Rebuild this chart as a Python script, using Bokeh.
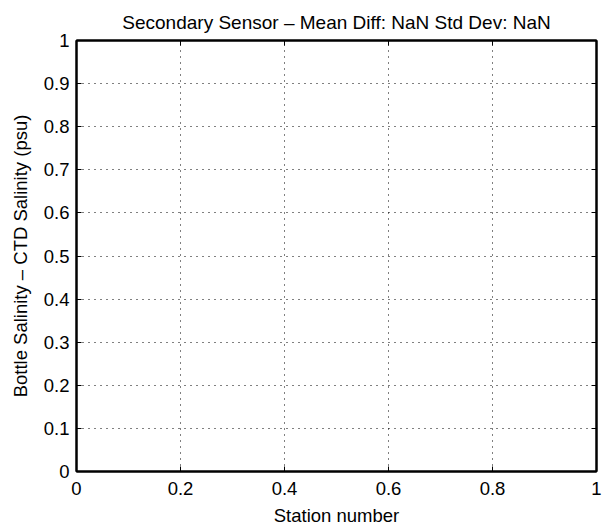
from bokeh.plotting import figure
from bokeh.models import LinearAxis, FixedTicker, Range1d
from bokeh.embed import file_html
from bokeh.resources import INLINE

# Data (the reference plot is empty: no valid samples, hence NaN statistics)
station = []
salinity_diff = []

title_text = "Secondary Sensor \u2013 Mean Diff: NaN Std Dev: NaN"
x_label = "Station number"
y_label = "Bottle Salinity \u2013 CTD Salinity (psu)"

x_ticks = [0, 0.2, 0.4, 0.6, 0.8, 1]
x_tick_labels = ["0", "0.2", "0.4", "0.6", "0.8", "1"]
y_ticks = [0, 0.1, 0.2, 0.3, 0.4, 0.5, 0.6, 0.7, 0.8, 0.9, 1]
y_tick_labels = ["0", "0.1", "0.2", "0.3", "0.4", "0.5", "0.6", "0.7", "0.8", "0.9", "1"]

FONT = "Liberation Sans"

p = figure(width=608, height=531, output_backend="svg", toolbar_location=None,
           x_range=Range1d(0, 1), y_range=Range1d(0, 1),
           min_border_left=76, min_border_right=12, min_border_top=40, min_border_bottom=60)

p.scatter(station, salinity_diff, size=5, color="blue")

p.title.text = title_text
p.title.align = "center"
p.title.text_font = FONT
p.title.text_font_size = "19px"
p.title.text_font_style = "normal"
p.title.text_color = "black"
p.title.standoff = 15

p.outline_line_color = "black"
p.outline_line_width = 2
p.outline_line_alpha = 1

xt = FixedTicker(ticks=x_ticks)
yt = FixedTicker(ticks=y_ticks)

def style_axis(ax, ticker, labels, ticks, show_labels):
    ax.ticker = ticker
    ax.axis_line_color = "black"
    ax.axis_line_width = 2
    ax.major_tick_in = 5
    ax.major_tick_out = 0
    ax.major_tick_line_color = "black"
    ax.major_tick_line_width = 1
    ax.minor_tick_line_color = None
    ax.major_label_text_font = FONT
    ax.major_label_text_font_size = "18.5px"
    ax.major_label_text_color = "black"
    ax.axis_label_text_font = FONT
    ax.axis_label_text_font_size = "18.5px"
    ax.axis_label_text_font_style = "normal"
    ax.axis_label_text_color = "black"
    if show_labels:
        ax.major_label_overrides = {t: l for t, l in zip(ticks, labels)}
    else:
        ax.major_label_overrides = {t: "" for t in ticks}
        ax.major_label_standoff = 0

xa = p.xaxis[0]
ya = p.yaxis[0]
style_axis(xa, xt, x_tick_labels, x_ticks, True)
style_axis(ya, yt, y_tick_labels, y_ticks, True)
xa.axis_label = x_label
ya.axis_label = y_label
xa.major_label_standoff = 10
ya.major_label_standoff = 7
xa.axis_label_standoff = 7
ya.axis_label_standoff = 10

top = LinearAxis()
right = LinearAxis()
style_axis(top, FixedTicker(ticks=x_ticks), x_tick_labels, x_ticks, False)
style_axis(right, FixedTicker(ticks=y_ticks), y_tick_labels, y_ticks, False)
p.add_layout(top, "above")
p.add_layout(right, "right")

for g in (p.xgrid[0], p.ygrid[0]):
    g.grid_line_color = "black"
    g.grid_line_width = 1
    g.grid_line_dash = "1 5"
    g.grid_line_alpha = 1
p.xgrid[0].ticker = xt
p.ygrid[0].ticker = yt

open("out.html", "w").write(file_html(p, INLINE))
